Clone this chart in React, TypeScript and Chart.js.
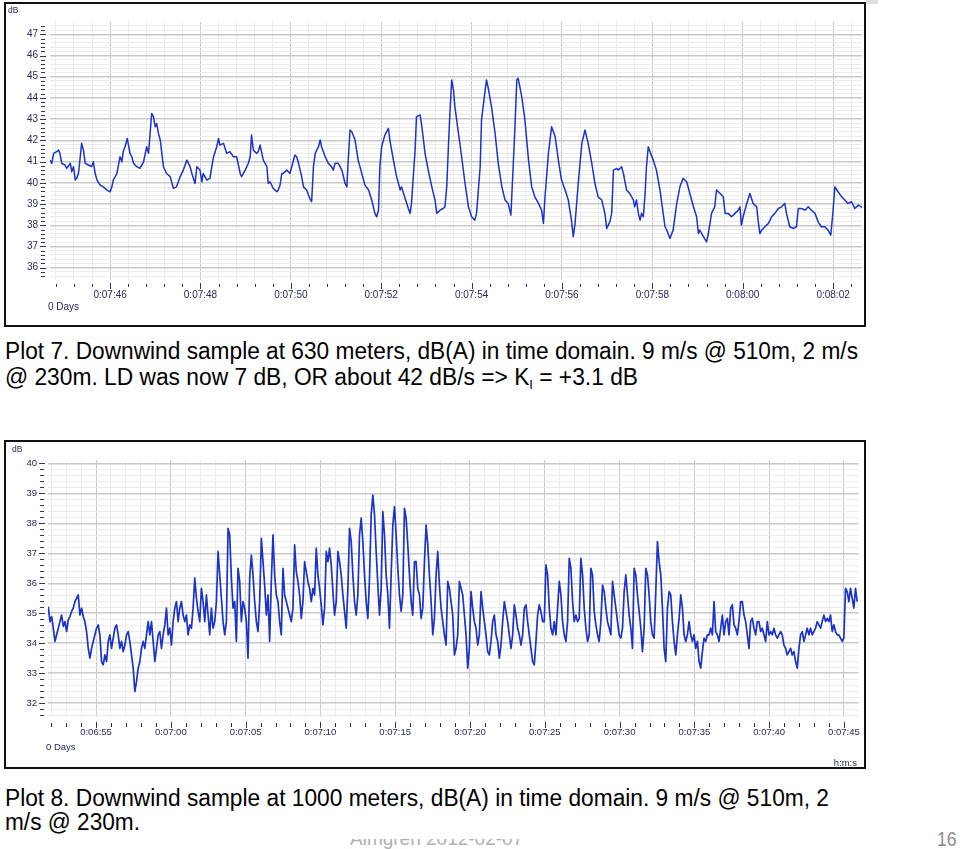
import React, { useEffect, useLayoutEffect, useRef } from "react";
import { Chart, registerables } from "chart.js";

Chart.register(...registerables);

// ---------------- DATA ----------------
// Plot 7 (630 m): seconds after 0:07:00, and level in dB
const PLOT7_TIME_BASE_S = 420; // 0:07:00
const PLOT7_TIME_S = [
  44.67, 44.71, 44.75, 44.82, 44.86, 44.89, 44.93, 45.0, 45.04, 45.12, 45.15, 45.19, 45.23, 45.26, 45.3, 45.34, 45.37, 45.41, 45.45, 45.52,
  45.59, 45.63, 45.67, 45.71, 45.78, 45.85, 45.93, 46.0, 46.04, 46.07, 46.15, 46.22, 46.26, 46.29, 46.33, 46.38, 46.44, 46.48, 46.52, 46.59,
  46.66, 46.74, 46.81, 46.85, 46.88, 46.92, 46.96, 47.0, 47.03, 47.07, 47.11, 47.18, 47.25, 47.33, 47.4, 47.47, 47.55, 47.62, 47.7, 47.77,
  47.81, 47.88, 47.92, 47.99, 48.03, 48.06, 48.14, 48.21, 48.25, 48.29, 48.36, 48.4, 48.43, 48.51, 48.58, 48.65, 48.73, 48.8, 48.88, 48.91,
  48.99, 49.06, 49.1, 49.13, 49.17, 49.24, 49.28, 49.32, 49.39, 49.47, 49.5, 49.54, 49.61, 49.69, 49.72, 49.76, 49.8, 49.83, 49.91, 49.98,
  50.02, 50.09, 50.13, 50.17, 50.24, 50.28, 50.35, 50.42, 50.46, 50.5, 50.54, 50.61,
  50.65, 50.68, 50.76, 50.83, 50.9, 50.94, 50.98, 51.05, 51.13, 51.2, 51.24, 51.27, 51.31, 51.35, 51.42, 51.49, 51.57, 51.64, 51.72, 51.79,
  51.86, 51.9, 51.94, 51.97, 52.01, 52.08, 52.16, 52.19, 52.27, 52.34, 52.42, 52.45, 52.53, 52.6, 52.64, 52.67, 52.75, 52.78, 52.86, 52.9,
  52.97, 53.04, 53.12, 53.19, 53.23, 53.3, 53.37, 53.41, 53.45, 53.49, 53.52, 53.56, 53.6, 53.63, 53.71, 53.78, 53.85, 53.93, 54.0, 54.07,
  54.11, 54.19, 54.22, 54.3, 54.33, 54.37, 54.44, 54.52, 54.59, 54.67, 54.74, 54.81, 54.87, 54.92, 54.96, 55.0, 55.03, 55.11, 55.18, 55.26,
  55.33, 55.4, 55.48, 55.55, 55.59, 55.62, 55.7, 55.77, 55.85, 55.92, 55.99, 56.07, 56.14, 56.21, 56.25, 56.29, 56.36, 56.44, 56.51, 56.58,
  56.66, 56.73, 56.8, 56.88, 56.95, 56.99, 57.06, 57.1, 57.14, 57.21,
  57.25, 57.32, 57.36, 57.43, 57.5, 57.58, 57.61, 57.65, 57.69, 57.73, 57.76, 57.8, 57.84, 57.87, 57.91, 57.95, 58.02, 58.09, 58.17, 58.24,
  58.28, 58.32, 58.39, 58.46, 58.54, 58.61, 58.68, 58.76, 58.83, 58.91, 58.98, 59.02, 59.05, 59.13, 59.2, 59.24, 59.31, 59.38, 59.42, 59.5,
  59.57, 59.61, 59.68, 59.75, 59.83, 59.9, 59.94, 59.97, 60.01, 60.09, 60.16, 60.23, 60.31, 60.34, 60.38, 60.42, 60.49, 60.57, 60.64, 60.71,
  60.79, 60.86, 60.93, 60.97, 61.04, 61.12, 61.19, 61.23, 61.3, 61.38, 61.45, 61.52, 61.6, 61.67, 61.74, 61.82, 61.89, 61.95, 62.0, 62.04,
  62.11, 62.19, 62.26, 62.33, 62.41, 62.48, 62.56, 62.63, 62.68,
];
const PLOT7_LEVEL_DB = [
  41.07, 40.92, 41.39, 41.47, 41.54, 41.39, 40.92, 40.84, 40.68, 40.92, 40.52, 40.76, 40.13, 40.21, 40.44, 41.23, 41.86, 41.54, 40.92, 40.84,
  40.76, 40.99, 40.44, 40.13, 39.89, 39.81, 39.66, 39.58, 39.81, 40.13, 40.44, 41.23, 40.99, 41.47, 41.7, 42.09, 41.39, 41.23, 40.92, 40.76,
  40.68, 40.99, 41.7, 41.39, 42.17, 43.27, 43.12, 42.64, 42.8, 42.33, 42.02, 40.76, 40.44, 40.29, 39.74, 39.81, 40.29, 40.6, 41.07, 40.76,
  40.44, 39.97, 40.76, 40.6, 40.05, 40.44, 40.13, 40.21, 40.76, 41.23, 41.7, 42.09, 41.78, 41.86, 41.39, 41.47, 41.23, 41.23, 40.44, 40.29,
  40.6, 40.92, 41.23, 42.25, 41.54, 41.39, 41.47, 41.78, 41.07, 40.76, 39.97, 40.05, 39.74, 39.58, 39.66, 39.89, 40.44, 40.44, 40.6, 40.44,
  40.76, 41.31, 41.23, 40.92, 40.29, 39.81, 39.66, 39.26, 39.11, 40.76, 41.39, 41.7,
  42.02, 41.7, 41.23, 40.92, 40.76, 40.6, 40.92, 40.92, 40.6, 39.97, 39.81, 41.07, 42.49, 42.41, 42.02, 41.07, 40.44, 39.89, 39.66, 39.19,
  38.56, 38.4, 38.71, 40.76, 41.7, 42.25, 42.57, 42.02, 41.07, 40.29, 39.66, 39.81, 39.26, 38.79, 38.56, 39.03, 41.54, 43.12, 43.2, 42.64,
  41.39, 40.6, 39.81, 39.19, 38.56, 38.71, 38.79, 38.87, 39.81, 41.86, 43.27, 44.85, 44.37, 43.59, 42.33, 41.23, 40.05, 38.87, 38.4, 38.24,
  38.56, 40.76, 42.96, 44.37, 44.85, 44.45, 43.59, 42.33, 40.92, 39.81, 39.19, 39.03, 38.48, 40.76, 42.64, 44.85, 44.93, 44.06, 42.96, 41.07,
  39.81, 39.34, 39.03, 38.71, 38.09, 39.19, 41.39, 42.64, 42.17, 41.07, 40.13, 39.66, 39.19, 38.24, 37.46, 38.09, 39.97, 41.86, 42.49, 41.86,
  40.92, 39.97, 39.34, 39.19, 38.56, 37.85, 38.16, 38.56, 40.6, 40.68,
  40.6, 40.76, 40.44, 39.66, 39.5, 39.19, 38.87, 39.19, 38.56, 38.24, 38.56, 38.4, 39.5, 40.76, 41.7, 41.47, 41.07, 40.6, 39.66, 38.56,
  37.93, 37.77, 37.38, 37.77, 39.03, 39.81, 40.21, 40.05, 39.5, 38.87, 38.4, 37.61, 37.77, 37.46, 37.22, 37.61, 38.56, 38.87, 39.66, 39.5,
  39.34, 38.56, 38.56, 38.4, 38.56, 38.71, 38.87, 38.01, 38.4, 39.03, 39.5, 39.03, 38.87, 38.24, 37.61, 37.77, 37.93, 38.09, 38.4, 38.56,
  38.79, 38.87, 39.03, 38.56, 37.93, 37.85, 37.93, 38.79, 38.79, 38.71, 38.87, 38.71, 38.56, 38.16, 37.93, 37.93, 37.77, 37.54, 38.71, 39.81,
  39.58, 39.34, 39.19, 39.03, 39.11, 38.79, 38.95, 38.87, 38.71,
];

// Plot 8 (1000 m): evenly sampled recording, start time (s of day) and sample interval
const PLOT8_START_S = 411.81;
const PLOT8_SAMPLE_S = 0.11126;
const PLOT8_LEVEL_DB = [
  35.22, 34.72, 34.89, 34.5, 34.06, 34.28, 34.5, 34.72, 34.94, 34.56, 34.72, 34.39, 34.78, 34.89, 35.06, 35.17, 35.39, 35.5, 35.61, 34.94,
  35.17, 34.89, 34.72, 34.39, 33.83, 33.5, 33.83, 34.06, 34.28, 34.5, 34.61, 34.28, 33.39, 33.28, 33.61, 33.39, 34.06, 34.28, 33.83, 34.17,
  34.5, 34.61, 34.28, 33.83, 34.06, 33.72, 33.94, 34.28, 34.39, 34.06, 33.61, 33.17, 32.39, 32.72, 33.17, 33.39, 33.83, 34.06, 33.83, 34.28,
  34.72, 34.28, 34.72, 34.06, 33.39, 33.83, 34.28, 34.39, 33.83, 34.28, 34.61, 35.17, 34.28, 34.5, 33.94, 34.72, 35.17, 35.39, 34.72, 35.17,
  35.39, 34.94, 34.72, 34.94, 34.28, 34.61, 34.5, 35.17, 36.17, 35.5, 35.06, 34.72, 35.83, 35.39, 34.72, 35.61, 34.94, 34.28, 35.17, 34.5,
  34.72, 35.39, 37.06, 36.28, 35.5, 34.72, 34.28, 34.72, 37.83, 37.61, 36.17, 35.17, 35.39, 34.06, 36.5, 36.06, 34.72, 35.39, 35.17, 34.72,
  33.5, 36.17, 36.94, 36.28, 35.39, 34.72, 34.39, 35.39, 37.5, 36.72, 35.94, 34.94, 35.61, 34.06, 36.06, 37.61, 36.28, 35.61, 35.39, 34.72,
  34.28, 36.5, 35.61, 35.39, 35.17, 34.94, 34.72, 35.17, 37.28, 36.39, 36.06,
  35.61, 34.83, 35.39, 36.72, 36.39, 36.06, 35.83, 35.39, 35.83, 35.61, 37.17, 36.28, 35.83, 35.28, 34.61, 35.17, 37.06, 36.72, 37.17, 36.61,
  35.72, 34.94, 35.39, 37.06, 36.72, 36.28, 35.61, 35.06, 34.5, 35.83, 37.83, 37.39, 36.28, 35.39, 34.94, 35.61, 37.61, 38.17, 37.39, 36.28,
  35.39, 34.83, 36.17, 38.28, 38.94, 38.28, 37.06, 35.94, 34.94, 35.83, 38.39, 37.61, 36.28, 35.61, 34.5, 36.28, 37.94, 38.56, 37.61, 36.5,
  35.61, 35.06, 35.61, 38.5, 38.17, 37.28, 36.28, 35.39, 34.94, 36.72, 36.72, 35.83, 35.61, 34.83, 35.17, 36.72, 37.94, 37.28, 36.28, 35.39,
  34.28, 34.83, 36.28, 37.06, 35.94, 35.17, 34.72, 34.28, 33.94, 36.06, 35.83, 35.39, 34.94, 33.61, 33.83, 34.28, 36.06, 35.83, 35.61, 34.94,
  34.28, 33.17, 33.83, 35.72, 35.17, 34.72, 34.5, 33.94, 34.28, 35.72, 35.17, 34.72, 34.28, 33.72, 33.61, 34.06, 34.72, 34.94, 34.28, 34.06,
  33.5, 33.94, 34.72, 35.39, 35.06, 34.72, 34.28, 33.83, 34.28, 35.28, 34.94, 34.5, 34.28, 33.94, 34.28, 35.17, 35.28, 34.72, 34.28, 33.83,
  33.39, 33.28, 34.06, 34.94, 35.28, 35.06, 34.72, 34.72, 36.61, 36.28, 35.17, 34.5, 34.28, 34.72, 34.28, 35.17, 36.06, 35.61, 34.72, 34.28,
  34.06, 34.72, 36.83, 36.5, 35.39, 34.72, 34.94, 34.72, 34.83, 36.83, 36.28, 35.17, 34.5, 34.06, 34.28, 36.5, 36.28, 35.06, 34.61, 34.28,
  34.06, 34.72, 35.94, 35.72, 35.17, 34.72, 34.5, 34.28, 36.06, 35.61, 35.17, 34.72, 34.28, 34.17, 34.5, 35.72, 36.28, 35.61, 34.94, 34.5,
  33.83, 36.5, 36.28, 35.61, 35.06, 34.5, 33.72, 34.5, 36.5, 36.28, 35.61, 34.72, 34.28, 34.17, 35.72, 37.39, 36.72, 36.28, 35.17, 33.83,
  33.39, 35.17, 35.72, 35.61, 34.72, 34.06, 33.61, 34.28, 34.83, 35.61, 35.17, 34.28, 34.06, 34.28, 34.72, 34.28, 34.06, 34.28, 33.83, 34.06,
  33.39, 33.17, 33.72, 34.17, 34.06, 34.28, 34.28, 34.5, 34.28, 35.39, 34.39, 34.28, 34.06, 34.5, 34.94, 34.28, 34.72, 34.83, 34.28, 35.17,
  35.28, 34.61, 34.5, 34.28, 34.72, 35.39, 35.39, 34.94, 34.72, 34.28, 33.83, 34.72, 34.83, 34.5, 34.28, 34.72, 34.72, 34.39, 34.5, 34.28,
  34.06, 34.72, 34.28, 34.39, 34.28, 34.5, 34.28, 34.17, 34.28, 34.39, 34.28, 33.94, 33.83, 33.61, 33.72, 33.83, 33.61, 33.72, 33.39, 33.17,
  33.83, 34.28, 34.39, 34.06, 34.28, 34.5, 34.28, 34.5, 34.28, 34.39, 34.5, 34.72, 34.61, 34.5, 34.72, 34.94, 34.72, 34.83, 34.72, 34.94,
  34.39, 34.61, 34.39, 34.28, 34.28, 34.17, 34.06, 34.17, 35.83, 35.72, 35.39, 35.83, 35.5, 35.17, 35.83, 35.39,
];

// Axis ranges and tick spacing
const PLOT7_X_RANGE = [464.67, 482.64];
const PLOT7_Y_RANGE = [35.42, 47.58];
const PLOT7_X_STEP = 0.4;
const PLOT7_X_LABEL_EVERY = 2;
const PLOT8_X_RANGE = [411.79, 465.97];
const PLOT8_Y_RANGE = [31.54, 40.11];
const PLOT8_X_STEP = 1;
const PLOT8_X_LABEL_EVERY = 5;
const Y_STEP = 0.2;
const Y_LABEL_EVERY = 1;

const UNIT_LABEL = "dB";
const DAYS_LABEL = "0 Days";
const HMS_LABEL = "h:m:s";

const CAPTION7_LINE1 = "Plot 7. Downwind sample at 630 meters, dB(A) in time domain. 9 m/s @ 510m, 2 m/s";
const CAPTION7_LINE2_A = "@ 230m. LD was now 7 dB, OR about 42 dB/s => K";
const CAPTION7_LINE2_SUB = "I";
const CAPTION7_LINE2_B = " = +3.1 dB";
const CAPTION8_LINE1 = "Plot 8. Downwind sample at 1000 meters, dB(A) in time domain. 9 m/s @ 510m, 2";
const CAPTION8_LINE2 = "m/s @ 230m.";
const FOOTER_TEXT = "Almgren 2012-02-07";
const PAGE_NUMBER = "16";

// ---------------- STYLE ----------------
const FONT = '"Liberation Sans", Arial, Helvetica, sans-serif';
const AXIS_TEXT = "#28285e";
const LINE_BLUE = "#1c33c8";
const GRID_MAJOR = "#c9c9c9";
const GRID_MINOR = "#ececec";

function isMultiple(v: number, every: number) {
  const q = v / every;
  return Math.abs(q - Math.round(q)) < 1e-6;
}

function formatClock(t: number) {
  const s = Math.round(t);
  const h = Math.floor(s / 3600);
  const m = Math.floor((s % 3600) / 60);
  const sec = s % 60;
  return `${h}:${String(m).padStart(2, "0")}:${String(sec).padStart(2, "0")}`;
}

const tickMarksPlugin = {
  id: "tickMarks",
  afterDraw(chart: any, _args: any, o: any) {
    const { ctx, chartArea } = chart;
    const xs = chart.scales.x;
    const ys = chart.scales.y;
    ctx.save();
    ctx.strokeStyle = o.color;
    ctx.lineWidth = 1;
    ctx.beginPath();
    for (const t of xs.ticks) {
      const px = Math.round(xs.getPixelForValue(t.value)) + 0.5;
      const major = isMultiple(t.value, o.xEvery);
      const a = chartArea.bottom + (major ? o.xMajorFrom : o.xMinorFrom);
      const b = chartArea.bottom + (major ? o.xMajorTo : o.xMinorTo);
      ctx.moveTo(px, a);
      ctx.lineTo(px, b);
    }
    for (const t of ys.ticks) {
      const py = Math.round(ys.getPixelForValue(t.value)) + 0.5;
      const major = isMultiple(t.value, o.yEvery);
      const a = chartArea.left - (major ? o.yMajorFrom : o.yMinorFrom);
      const b = chartArea.left - (major ? o.yMajorTo : o.yMinorTo);
      ctx.moveTo(a, py);
      ctx.lineTo(b, py);
    }
    ctx.stroke();
    ctx.restore();
  },
};

const decorPlugin = {
  id: "decor",
  afterDraw(chart: any, _args: any, o: any) {
    const ctx = chart.ctx;
    ctx.save();
    ctx.strokeStyle = "#111111";
    ctx.lineWidth = 2;
    ctx.strokeRect(o.frameX, o.frameY, o.frameW, o.frameH);
    ctx.fillStyle = AXIS_TEXT;
    ctx.textBaseline = "middle";
    ctx.textAlign = "left";
    ctx.font = `${o.unitSize}px ${FONT}`;
    ctx.fillText(o.unitText, o.unitX, o.unitY);
    ctx.font = `${o.daysSize}px ${FONT}`;
    ctx.fillText(o.daysText, o.daysX, o.daysY);
    if (o.hmsText) {
      ctx.textAlign = "right";
      ctx.font = `${o.hmsSize}px ${FONT}`;
      ctx.fillText(o.hmsText, o.hmsX, o.hmsY);
    }
    ctx.restore();
  },
};

type PanelSpec = {
  points: { x: number; y: number }[];
  width: number;
  height: number;
  area: { left: number; top: number; right: number; bottom: number };
  xRange: number[];
  yRange: number[];
  xStep: number;
  xEvery: number;
  xLabelPad: number;
  xFont: number;
  yLabelPad: number;
  yFont: number;
  lineWidth: number;
  marks: any;
  decor: any;
};

function buildConfig(p: PanelSpec): any {
  return {
    type: "line",
    data: {
      datasets: [
        {
          data: p.points,
          borderColor: LINE_BLUE,
          borderWidth: p.lineWidth,
          borderJoinStyle: "round",
          pointRadius: 0,
          tension: 0,
          fill: false,
        },
      ],
    },
    options: {
      responsive: false,
      animation: false,
      devicePixelRatio: 1,
      events: [],
      parsing: false,
      layout: { padding: { left: 0, top: p.area.top, right: p.width - p.area.right, bottom: 0 } },
      plugins: {
        legend: { display: false },
        tooltip: { enabled: false },
        tickMarks: p.marks,
        decor: p.decor,
      },
      scales: {
        x: {
          type: "linear",
          min: p.xRange[0],
          max: p.xRange[1],
          afterFit: (s: any) => {
            s.height = p.height - p.area.bottom;
          },
          border: { display: false },
          grid: {
            drawTicks: false,
            color: (c: any) => (c.tick && isMultiple(c.tick.value, p.xEvery) ? GRID_MAJOR : GRID_MINOR),
            lineWidth: 1,
          },
          ticks: {
            stepSize: p.xStep,
            autoSkip: false,
            includeBounds: false,
            maxRotation: 0,
            minRotation: 0,
            padding: p.xLabelPad,
            color: AXIS_TEXT,
            font: { family: FONT, size: p.xFont },
            callback: (v: number) => (isMultiple(v, p.xEvery) ? formatClock(v) : ""),
          },
        },
        y: {
          type: "linear",
          min: p.yRange[0],
          max: p.yRange[1],
          afterFit: (s: any) => {
            s.width = p.area.left;
          },
          border: { display: false },
          grid: {
            drawTicks: false,
            color: (c: any) => (c.tick && isMultiple(c.tick.value, Y_LABEL_EVERY) ? GRID_MAJOR : GRID_MINOR),
            lineWidth: (c: any) => (c.tick && isMultiple(c.tick.value, Y_LABEL_EVERY) ? 1.5 : 1),
          },
          ticks: {
            stepSize: Y_STEP,
            autoSkip: false,
            includeBounds: false,
            padding: p.yLabelPad,
            color: AXIS_TEXT,
            font: { family: FONT, size: p.yFont },
            callback: (v: number) => (isMultiple(v, Y_LABEL_EVERY) ? String(Math.round(v)) : ""),
          },
        },
      },
    },
    plugins: [tickMarksPlugin, decorPlugin],
  };
}

function ChartPanel({ spec, left, top }: { spec: PanelSpec; left: number; top: number }) {
  const ref = useRef<HTMLCanvasElement>(null);
  useEffect(() => {
    if (!ref.current) return;
    const chart = new Chart(ref.current, buildConfig(spec));
    return () => chart.destroy();
  }, []);
  return (
    <canvas
      ref={ref}
      width={spec.width}
      height={spec.height}
      style={{ position: "absolute", left, top, width: spec.width, height: spec.height }}
    />
  );
}

function FitLine({ left, top, target, children }: { left: number; top: number; target: number; children: any }) {
  const ref = useRef<HTMLDivElement>(null);
  useLayoutEffect(() => {
    const el = ref.current;
    if (!el) return;
    el.style.transform = "none";
    const w = el.getBoundingClientRect().width;
    if (w > 0) el.style.transform = `scaleX(${target / w})`;
  }, [target]);
  return (
    <div
      ref={ref}
      style={{
        position: "absolute",
        left,
        top,
        whiteSpace: "nowrap",
        fontFamily: FONT,
        fontSize: 23,
        lineHeight: "26px",
        color: "#000",
        transformOrigin: "0 0",
      }}
    >
      {children}
    </div>
  );
}

const plot7Points = PLOT7_TIME_S.map((t, i) => ({ x: PLOT7_TIME_BASE_S + t, y: PLOT7_LEVEL_DB[i] }));
const plot8Points = PLOT8_LEVEL_DB.map((v, i) => ({ x: PLOT8_START_S + i * PLOT8_SAMPLE_S, y: v }));

const plot7Spec: PanelSpec = {
  points: plot7Points,
  width: 870,
  height: 332,
  area: { left: 50, top: 22, right: 862, bottom: 280 },
  xRange: PLOT7_X_RANGE,
  yRange: PLOT7_Y_RANGE,
  xStep: PLOT7_X_STEP,
  xEvery: PLOT7_X_LABEL_EVERY,
  xLabelPad: 9,
  xFont: 10,
  yLabelPad: 12,
  yFont: 10,
  lineWidth: 1.5,
  marks: {
    color: "#33335f",
    xEvery: PLOT7_X_LABEL_EVERY,
    xMinorFrom: 4, xMinorTo: 7, xMajorFrom: 3, xMajorTo: 9,
    yEvery: Y_LABEL_EVERY,
    yMinorFrom: 9, yMinorTo: 5, yMajorFrom: 10, yMajorTo: 4,
  },
  decor: {
    frameX: 5, frameY: 3, frameW: 860, frameH: 323,
    unitText: UNIT_LABEL, unitSize: 8.5, unitX: 8, unitY: 10.5,
    daysText: DAYS_LABEL, daysSize: 10, daysX: 48, daysY: 307.5,
    hmsText: "", hmsSize: 9, hmsX: 0, hmsY: 0,
  },
};

const plot8Spec: PanelSpec = {
  points: plot8Points,
  width: 870,
  height: 336,
  area: { left: 48, top: 24, right: 860, bottom: 281 },
  xRange: PLOT8_X_RANGE,
  yRange: PLOT8_Y_RANGE,
  xStep: PLOT8_X_STEP,
  xEvery: PLOT8_X_LABEL_EVERY,
  xLabelPad: 10,
  xFont: 9.5,
  yLabelPad: 11,
  yFont: 9.5,
  lineWidth: 1.7,
  marks: {
    color: "#33335f",
    xEvery: PLOT8_X_LABEL_EVERY,
    xMinorFrom: 6, xMinorTo: 10, xMajorFrom: 5, xMajorTo: 11,
    yEvery: Y_LABEL_EVERY,
    yMinorFrom: 8, yMinorTo: 4, yMajorFrom: 9, yMajorTo: 3,
  },
  decor: {
    frameX: 5, frameY: 5, frameW: 860, frameH: 327,
    unitText: UNIT_LABEL, unitSize: 8.5, unitX: 12, unitY: 13.5,
    daysText: DAYS_LABEL, daysSize: 9.5, daysX: 46, daysY: 311,
    hmsText: HMS_LABEL, hmsSize: 9.5, hmsX: 857, hmsY: 327,
  },
};

export default function App() {
  return (
    <div
      style={{
        position: "absolute",
        left: 0,
        top: 0,
        width: 960,
        height: 849,
        background: "#ffffff",
        overflow: "hidden",
      }}
    >
      <div style={{ position: "absolute", left: 866, top: 0, width: 12, height: 4, background: "#dedede" }} />
      <ChartPanel spec={plot7Spec} left={0} top={0} />
      <FitLine left={4.5} top={338} target={853}>
        {CAPTION7_LINE1}
      </FitLine>
      <FitLine left={5} top={364} target={633}>
        {CAPTION7_LINE2_A}
        <span style={{ fontSize: 13, position: "relative", top: 4 }}>{CAPTION7_LINE2_SUB}</span>
        {CAPTION7_LINE2_B}
      </FitLine>
      <ChartPanel spec={plot8Spec} left={0} top={436} />
      <FitLine left={4.5} top={785} target={824}>
        {CAPTION8_LINE1}
      </FitLine>
      <FitLine left={5} top={809} target={135}>
        {CAPTION8_LINE2}
      </FitLine>
      <div style={{ position: "absolute", left: 0, top: 839, width: 960, height: 10, overflow: "hidden" }}>
        <div
          style={{
            position: "absolute",
            left: 350,
            top: -10,
            fontFamily: FONT,
            fontSize: 19,
            lineHeight: "20px",
            color: "#b0b0b0",
            whiteSpace: "nowrap",
          }}
        >
          {FOOTER_TEXT}
        </div>
      </div>
      <div
        style={{
          position: "absolute",
          left: 937,
          top: 829,
          fontFamily: FONT,
          fontSize: 20,
          lineHeight: "20px",
          color: "#8c8c8c",
          transform: "scaleX(0.88)",
          transformOrigin: "0 0",
        }}
      >
        {PAGE_NUMBER}
      </div>
    </div>
  );
}
